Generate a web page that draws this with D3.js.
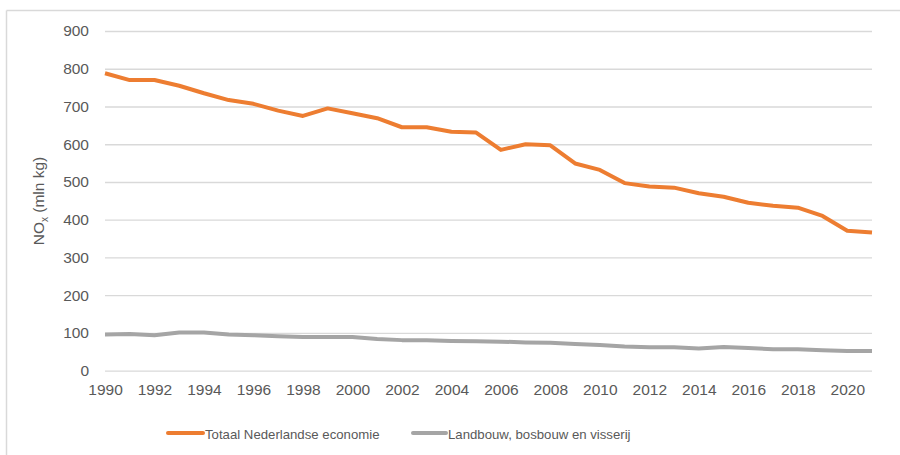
<!DOCTYPE html>
<html>
<head>
<meta charset="utf-8">
<script src="https://cdn.jsdelivr.net/npm/d3@7"></script>
<style>
  html, body { margin: 0; padding: 0; background: #fff; }
  svg { display: block; }
  text { font-family: "Liberation Sans", Arial, sans-serif; fill: #595959; }
</style>
</head>
<body>
<svg id="chart" width="900" height="455"></svg>
<script>
const years = d3.range(1990, 2022);
const totaal = [788, 770, 770, 755, 735, 717, 707, 689, 675, 695, 682, 669, 645, 645, 633, 631, 585, 600, 597, 549, 532, 497, 488, 485, 470, 461, 445, 437, 432, 410, 371, 366];
const landbouw = [96, 97, 94, 101, 101, 96, 94, 91, 89, 89, 89, 84, 81, 81, 79, 78, 77, 75, 74, 71, 68, 64, 62, 62, 59, 63, 60, 57, 57, 54, 52, 52];
const yTicks = [0, 100, 200, 300, 400, 500, 600, 700, 800, 900];
const xTicks = d3.range(1990, 2021, 2);
const seriesNames = ["Totaal Nederlandse economie", "Landbouw, bosbouw en visserij"];
const colors = ["#ED7D31", "#A5A5A5"];

const svg = d3.select("#chart");

// outer chart border (top & left visible)
svg.append("line").attr("x1", 6.5).attr("x2", 900).attr("y1", 10.5).attr("y2", 10.5)
  .attr("stroke", "#d9d9d9").attr("stroke-width", 1.5);
svg.append("line").attr("x1", 6.5).attr("x2", 6.5).attr("y1", 10.5).attr("y2", 455)
  .attr("stroke", "#d9d9d9").attr("stroke-width", 1.5);

const x = d3.scaleLinear().domain([1990, 2021]).range([105, 872]);
const y = d3.scaleLinear().domain([0, 900]).range([370.7, 31]);

// gridlines + y labels
const yAxis = d3.axisLeft(y).tickValues(yTicks).tickSize(-(872 - 105)).tickPadding(16).tickFormat(d3.format("d"));
const gy = svg.append("g").attr("transform", "translate(105,0)").call(yAxis);
gy.select(".domain").remove();
gy.selectAll(".tick line").attr("stroke", "#d9d9d9").attr("stroke-width", 1.3);
gy.selectAll(".tick text").attr("font-size", 15.5).attr("fill", "#595959")
  .style("font-family", "'Liberation Sans', Arial, sans-serif");

// x labels
const xAxis = d3.axisBottom(x).tickValues(xTicks).tickSize(0).tickPadding(13).tickFormat(d3.format("d"));
const gx = svg.append("g").attr("transform", "translate(0,370.7)").call(xAxis);
gx.select(".domain").remove();
gx.selectAll(".tick text").attr("font-size", 15.5).attr("fill", "#595959")
  .style("font-family", "'Liberation Sans', Arial, sans-serif");

// lines
const line = d3.line().x((d, i) => x(years[i])).y(d => y(d));
[landbouw, totaal].forEach((s, k) => {
  const c = s === totaal ? colors[0] : colors[1];
  svg.append("path").datum(s).attr("d", line).attr("fill", "none")
    .attr("stroke", c).attr("stroke-width", 4).attr("stroke-linejoin", "round");
});

// y axis title
const yt = svg.append("text").attr("transform", "translate(44,201) rotate(-90)")
  .attr("text-anchor", "middle").attr("font-size", 15.5);
yt.append("tspan").text("NO");
yt.append("tspan").text("x").attr("font-size", 10).attr("dy", 4);
yt.append("tspan").text(" (mln kg)").attr("dy", -4);

// legend
const legendItems = [
  { name: seriesNames[0], color: colors[0], x0: 168, x1: 203, tx: 205 },
  { name: seriesNames[1], color: colors[1], x0: 413, x1: 446, tx: 448 }
];
const lg = svg.append("g");
legendItems.forEach(it => {
  lg.append("line").attr("x1", it.x0).attr("x2", it.x1).attr("y1", 433).attr("y2", 433)
    .attr("stroke", it.color).attr("stroke-width", 4).attr("stroke-linecap", "round");
  lg.append("text").attr("x", it.tx).attr("y", 438.5).attr("font-size", 13.2).text(it.name);
});
</script>
</body>
</html>
